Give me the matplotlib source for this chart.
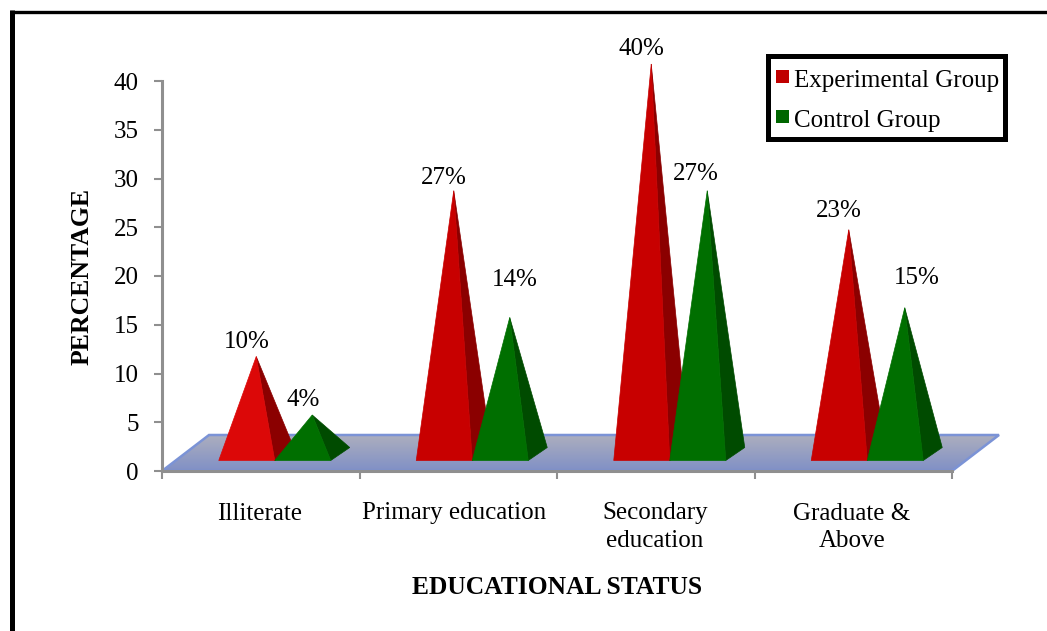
import numpy as np
import matplotlib
matplotlib.use('Agg')
import matplotlib.pyplot as plt
from matplotlib.patches import Polygon, Rectangle

plt.rcParams['font.family'] = ['Liberation Serif', 'DejaVu Serif']

categories = ['Illiterate', 'Primary education', 'Secondary\neducation', 'Graduate &\nAbove']
experimental = [10, 27, 40, 23]
control = [4, 14, 27, 15]
yticks = [0, 5, 10, 15, 20, 25, 30, 35, 40]

# label offsets from each apex, in pixels
exp_offsets = [(-9, 15), (-10, 13), (-10, 15), (-10, 19)]
ctl_offsets = [(-9, 15), (5, 38), (-11, 17), (12, 30)]
cat_shift = [-1, -4, -1, -1.5]

W, H = 1047, 631
fig = plt.figure(figsize=(W / 100, H / 100), dpi=100)
ax = fig.add_axes([162 / W, (H - 471) / H, 790 / W, 390 / H])

# pixel sizes converted to data units
px = 4 / 790
py = 40 / 390

# floor of the 3d box
floor = [(0, 0), (4, 0), (4 + 47 * px, 36 * py), (47 * px, 36 * py)]
grad = np.linspace(0, 1, 64).reshape(-1, 1, 1)
top = np.array([172, 174, 190]) / 255
bottom = np.array([128, 144, 198]) / 255
img = ax.imshow(top * (1 - grad) + bottom * grad, aspect='auto', zorder=1,
                extent=(0, 4 + 47 * px, 0, 36 * py))
floor_patch = Polygon(floor, closed=True, transform=ax.transData, fc='none', ec='none')
ax.add_patch(floor_patch)
img.set_clip_path(floor_patch)
img.set_clip_box(fig.bbox)
ax.add_patch(Polygon(floor, closed=True, fc='none', ec='#7b93d6', lw=1.8, zorder=2, clip_on=False))
ax.set_xlim(0, 4)
ax.set_ylim(0, 40)


def pyramid(x0, value, front, side, z):
    # front face plus the shaded right face, apex above the middle of the base
    w = 56 * px
    dx, dy = 19 * px, 13 * py
    base = 10.5 * py
    apex = (x0 + w / 2 + dx / 2, base + dy / 2 + value)
    ax.add_patch(Polygon([(x0 + w, base), (x0 + w + dx, base + dy), apex],
                         closed=True, fc=side, ec=side, lw=0.5, zorder=z, clip_on=False))
    ax.add_patch(Polygon([(x0, base), (x0 + w, base), apex],
                         closed=True, fc=front, ec=front, lw=0.5, zorder=z + 0.1, clip_on=False))
    return apex


def value_label(apex, text, offset):
    ax.annotate(text, xy=apex, xytext=(offset[0] * 0.72, offset[1] * 0.72), textcoords='offset points',
                ha='center', va='center', fontsize=18, zorder=6, annotation_clip=False)


for i in range(len(categories)):
    split = i + 0.5 + 14 * px
    red = '#dc0808' if i == 0 else '#c80000'
    a1 = pyramid(split - 56 * px, experimental[i], red, '#8b0000', 3)
    a2 = pyramid(split, control[i], '#006f00', '#004b00', 4)
    value_label(a1, f'{experimental[i]}%', exp_offsets[i])
    value_label(a2, f'{control[i]}%', ctl_offsets[i])

# axes
for s in ['top', 'right']:
    ax.spines[s].set_visible(False)
for s in ['left', 'bottom']:
    ax.spines[s].set_color('#8f8f8f')
    ax.spines[s].set_linewidth(2.2)
ax.set_yticks(yticks)
ax.set_xticks(range(5))
ax.set_xticklabels([])
ax.tick_params(axis='both', color='#8f8f8f', width=1.5, length=5.8, labelsize=18)
ax.tick_params(axis='y', pad=11)
for i, c in enumerate(categories):
    ax.text(i + 0.5 + cat_shift[i] * px, -31.5 * py, c, ha='center', va='top', fontsize=18,
            linespacing=1.3, clip_on=False)
ax.set_ylabel('PERCENTAGE', fontsize=18.5, fontweight='bold')
ax.yaxis.set_label_coords((93.5 - 162) / 790, (471 - 276.5) / 390)
ax.text(2, -116 * py, 'EDUCATIONAL STATUS', ha='center', va='center', fontsize=18.4,
        fontweight='bold', clip_on=False)

# legend box
fig.add_artist(Rectangle((768 / W, 1 - 138.5 / H), 237 / W, 82.5 / H, fc='white', ec='black', lw=3.6,
                         transform=fig.transFigure, zorder=7))
for y, color, name in [(87, '#c00000', 'Experimental Group'), (127, '#006600', 'Control Group')]:
    fig.add_artist(Rectangle((776 / W, 1 - (y - 4) / H), 13 / W, 13 / H, fc=color, ec='none',
                             transform=fig.transFigure, zorder=8))
    fig.text(794 / W, 1 - y / H, name, fontsize=18, va='baseline', ha='left', zorder=8)

# outer frame, open on the right and at the bottom
fig.add_artist(plt.Line2D([12 / W, 12 / W], [0, 1 - 10 / H], color='black', lw=3.6,
                          solid_capstyle='butt', transform=fig.transFigure))
fig.add_artist(plt.Line2D([9.5 / W, 1], [1 - 11.7 / H, 1 - 11.7 / H], color='black', lw=2.4,
                          solid_capstyle='butt', transform=fig.transFigure))

fig.savefig('out.png', dpi=100)
